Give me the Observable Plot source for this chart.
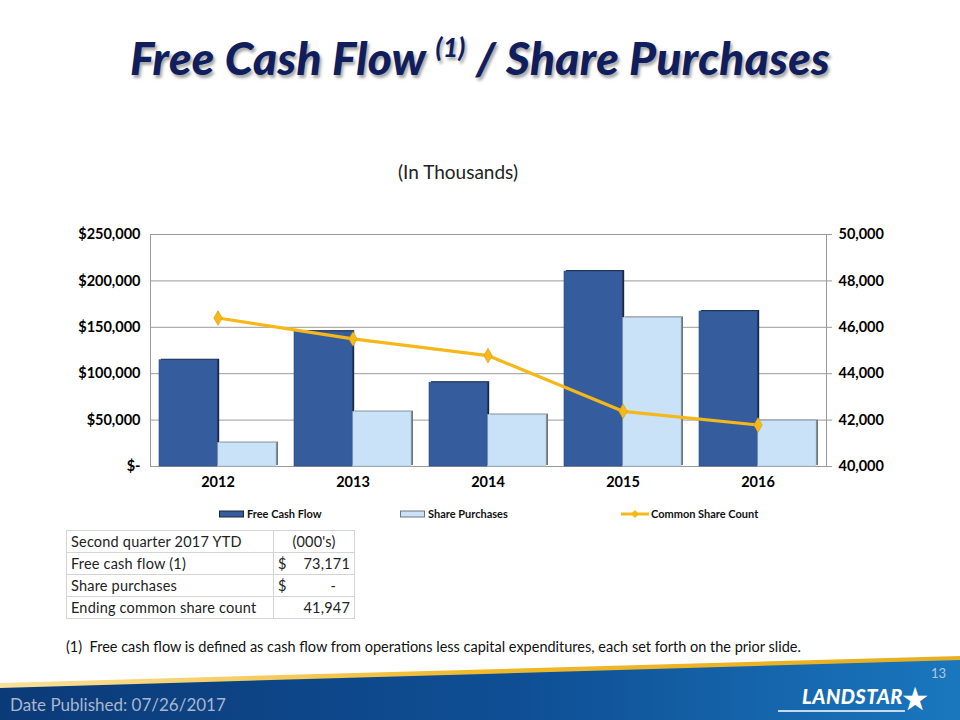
<!DOCTYPE html>
<html>
<head>
<meta charset="utf-8">
<script src="https://cdn.jsdelivr.net/npm/d3@7"></script>
<script src="https://cdn.jsdelivr.net/npm/@observablehq/plot@0.6"></script>
<style>
  html, body { margin: 0; padding: 0; background: #fff; }
  body { width: 960px; height: 720px; position: relative; overflow: hidden; font-family: Lato, "Open Sans", sans-serif; }
  #title { position: absolute; left: 0; top: 30px; width: 960px; text-align: center; font: italic 900 46px Lato, sans-serif; color: #101E5E; text-shadow: 2px 3px 3px rgba(0,0,0,0.35); letter-spacing: 0.3px; }
  #title sup { font-size: 26px; vertical-align: 18px; line-height: 0; }
  #subtitle { position: absolute; left: 0; top: 160px; width: 916px; text-align: center; font: 400 19px Lato, sans-serif; color: #222; }
  #chart { position: absolute; left: 0; top: 214px; }
  #legend { position: absolute; top: 505px; left: 0; width: 960px; height: 18px; font: 700 11px Lato, sans-serif; color: #111; }
  .lg { position: absolute; top: 2px; display: flex; align-items: center; white-space: nowrap; }
  .lg svg { margin-right: 2px; }
  table#ytd { position: absolute; left: 66px; top: 530px; border-collapse: collapse; font: 400 14.5px Lato, sans-serif; color: #222; letter-spacing: 0.2px; }
  #ytd td { border: 1px solid #D4D4D4; height: 21px; padding: 0 4px; }
  #foot1 { position: absolute; left: 66px; top: 638px; font: 400 14.5px Lato, sans-serif; color: #111; white-space: nowrap; }
  #footer { position: absolute; left: 0; top: 650px; }
</style>
</head>
<body>
<div id="title">Free Cash Flow <sup>(1)</sup> / Share Purchases</div>
<div id="subtitle">(In Thousands)</div>
<div id="chart"></div>
<div id="legend"></div>
<table id="ytd"></table>
<div id="foot1">(1)&nbsp; Free cash flow is defined as cash flow from operations less capital expenditures, each set forth on the prior slide.</div>
<svg id="footer" width="960" height="70"></svg>
<script>
// ---- data ----
const years = ["2012", "2013", "2014", "2015", "2016"];
const freeCashFlow = [114500, 145300, 90300, 210100, 167000];
const sharePurchases = [25200, 58600, 55400, 160100, 48900];
const shareCount = [46400, 45500, 44780, 42380, 41790];
const leftTicks = [0, 50000, 100000, 150000, 200000, 250000];
const rightTicks = [40000, 42000, 44000, 46000, 48000, 50000];
const seriesNames = ["Free Cash Flow", "Share Purchases", "Common Share Count"];
const tableRows = [
  ["Second quarter 2017 YTD", "(000's)"],
  ["Free cash flow (1)", "$", "73,171"],
  ["Share purchases", "$", "-"],
  ["Ending common share count", "", "41,947"]
];

// ---- colours ----
const cFCF = "#355D9E", cFCFedge = "#1A2740";
const cSP = "#CAE2F8", cSPedge = "#6E7680";
const cLine = "#F5B818";

const data = years.map((y, i) => ({year: y, fcf: freeCashFlow[i], sp: sharePurchases[i], count: shareCount[i]}));

// secondary axis mapping 40,000..50,000 -> 0..250,000
const rMin = 40000, rMax = 50000, lMax = 250000;
const toLeft = v => (v - rMin) / (rMax - rMin) * lMax;

const W = 960, mL = 150, mR = 134, mT = 20, mB = 38, H = 290;
const padInner = 0.13;
const bw = (W - mL - mR) / years.length * (1 - padInner);
const half = bw / 2;

const fmtMoney = d => d === 0 ? "$-" : "$" + d3.format(",")(d);

const chart = Plot.plot({
  width: W, height: H,
  marginLeft: mL, marginRight: mR, marginTop: mT, marginBottom: mB,
  style: {fontFamily: "Lato, sans-serif", fontSize: "14.5px", fontWeight: 700, color: "#000", background: "transparent"},
  x: {domain: years, paddingInner: padInner, paddingOuter: padInner / 2, label: null},
  y: {domain: [0, lMax], label: null},
  marks: [
    Plot.gridY(leftTicks, {stroke: "#9A9A9A", strokeOpacity: 1}),
    Plot.frame({stroke: "#9A9A9A"}),
    // shadows
    Plot.barY(data, {x: "year", y: "fcf", fill: cFCFedge, insetRight: half, dx: 2, dy: -1}),
    Plot.barY(data, {x: "year", y: "fcf", fill: cFCF, insetRight: half, stroke: "#2A4A80", strokeWidth: 0.6}),
    Plot.barY(data, {x: "year", y: "sp", fill: cSPedge, insetLeft: half, dx: 2, dy: -1}),
    Plot.barY(data, {x: "year", y: "sp", fill: cSP, insetLeft: half, stroke: "#AFC8E0", strokeWidth: 0.6}),
    Plot.line(data, {x: "year", y: d => toLeft(d.count), stroke: cLine, strokeWidth: 3.2}),
    Plot.dot(data, {x: "year", y: d => toLeft(d.count), symbol: "diamond", r: 4.5, fill: cLine, stroke: "#C89A10", strokeWidth: 0.5}),
    Plot.axisY(leftTicks, {anchor: "left", tickSize: 0, tickPadding: 10, tickFormat: fmtMoney, label: null}),
    Plot.axisY(rightTicks.map(toLeft), {anchor: "right", tickSize: 5, tickPadding: 7, stroke: "#9A9A9A", tickFormat: d => d3.format(",")(rMin + d / lMax * (rMax - rMin)), label: null}),
    Plot.axisX({tickSize: 0, tickPadding: 10, label: null})
  ]
});
document.getElementById("chart").appendChild(chart);

// ---- legend ----
const legend = document.getElementById("legend");
const lgItems = [
  {name: seriesNames[0], x: 219, swatch: `<svg width="26" height="8"><rect x="0.5" y="1" width="24" height="6" fill="${cFCF}" stroke="${cFCFedge}" stroke-width="1"/></svg>`},
  {name: seriesNames[1], x: 400, swatch: `<svg width="26" height="8"><rect x="0.5" y="1" width="24" height="6" fill="${cSP}" stroke="${cSPedge}" stroke-width="1"/></svg>`},
  {name: seriesNames[2], x: 621, swatch: `<svg width="28" height="10"><line x1="0" y1="5" x2="28" y2="5" stroke="${cLine}" stroke-width="3"/><path d="M14 1 L18 5 L14 9 L10 5 Z" fill="${cLine}"/></svg>`}
];
lgItems.forEach(it => {
  const d = document.createElement("div");
  d.className = "lg";
  d.style.left = it.x + "px";
  d.innerHTML = it.swatch + `<span>${it.name}</span>`;
  legend.appendChild(d);
});

// ---- table ----
const tbl = document.getElementById("ytd");
tableRows.forEach((r, i) => {
  const tr = document.createElement("tr");
  const td1 = document.createElement("td");
  td1.textContent = r[0];
  td1.style.width = "198px";
  tr.appendChild(td1);
  const td2 = document.createElement("td");
  td2.style.width = "72px";
  if (i === 0) {
    td2.style.textAlign = "center";
    td2.textContent = r[1];
  } else {
    td2.innerHTML = `<span style="float:left">${r[1]}</span><span style="float:right">${r[2]}</span>`;
    if (r[2] === "-") td2.lastChild.style.marginRight = "14px";
  }
  tr.appendChild(td2);
  tbl.appendChild(tr);
});

// ---- footer band ----
const f = d3.select("#footer");
const defs = f.append("defs");
const g1 = defs.append("linearGradient").attr("id", "blueg").attr("x1", "0").attr("x2", "1");
g1.append("stop").attr("offset", "0").attr("stop-color", "#0B3A78");
g1.append("stop").attr("offset", "0.55").attr("stop-color", "#0F4F95");
g1.append("stop").attr("offset", "1").attr("stop-color", "#1A77BE");
const g2 = defs.append("linearGradient").attr("id", "goldg").attr("x1", "0").attr("x2", "1");
g2.append("stop").attr("offset", "0").attr("stop-color", "#F3C23A").attr("stop-opacity", 0.5);
g2.append("stop").attr("offset", "0.5").attr("stop-color", "#F0B92A");
g2.append("stop").attr("offset", "1").attr("stop-color", "#E8B020");
f.append("path").attr("d", "M0 33 L960 6 L960 11 L0 39 Z").attr("fill", "url(#goldg)");
f.append("path").attr("d", "M0 38 L960 10 L960 70 L0 70 Z").attr("fill", "url(#blueg)");
f.append("text").attr("x", 10).attr("y", 61).attr("fill", "#A9B6CC")
  .style("font", "400 17px Lato, sans-serif").text("Date Published:  07/26/2017");
f.append("text").attr("x", 946).attr("y", 28).attr("text-anchor", "end").attr("fill", "#B9C6D6")
  .style("font", "400 13px Lato, sans-serif").text("13");
f.append("text").attr("x", 903).attr("y", 54).attr("text-anchor", "end").attr("fill", "#fff")
  .style("font", "italic 900 20px Lato, sans-serif").style("letter-spacing", "0.5px").text("LANDSTAR");
f.append("line").attr("x1", 778).attr("y1", 61).attr("x2", 905).attr("y2", 61).attr("stroke", "#fff").attr("stroke-width", 1.5);
f.append("text").attr("x", 915).attr("y", 60).attr("text-anchor", "middle").attr("fill", "#fff")
  .style("font", "400 32px 'DejaVu Sans', sans-serif").text("★");
</script>
</body>
</html>
